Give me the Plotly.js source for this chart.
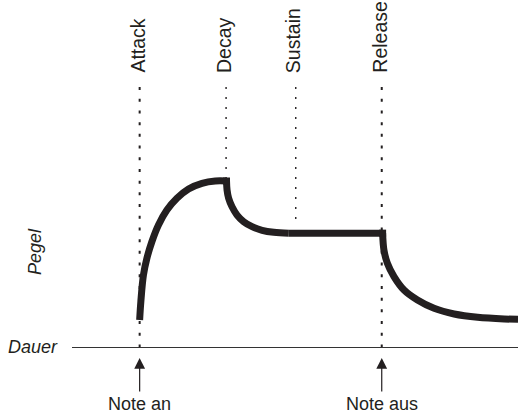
<!DOCTYPE html>
<html>
<head>
<meta charset="utf-8">
<script src="https://cdn.plot.ly/plotly-3.0.1.min.js"></script>
<style>html,body{margin:0;padding:0;background:#fff;}#chart{width:518px;height:414px;}</style>
</head>
<body>
<div id="chart"></div>
<script>
// Phase markers (time units along "Dauer")
const phaseNames = ['Attack', 'Decay', 'Sustain', 'Release'];
const phaseTimes = [0, 19.6, 35.4, 54.9];
const guideTop = 156.6;
const guideBottom = [0, 101, 73.5, 0];

// Note events
const noteLabels = ['Note an', 'Note aus'];
const noteTimes = [0, 54.9];

// Envelope curve segments (time, level "Pegel")
const attackTime  = [0, 0.27, 0.86, 1.64, 2.77, 4.27, 6.18, 8.45, 11.09, 14.14, 17.16, 19.7];
const attackLevel = [16.3, 27.3, 43.4, 53.4, 63.4, 73.5, 82.5, 89.6, 95.2, 98.6, 100, 100];
const decayTime   = [19.7, 19.82, 20.18, 20.95, 22.09, 23.59, 25.5, 27.77, 30.41, 33.82];
const decayLevel  = [100, 94.6, 89.6, 84.5, 79.5, 75.5, 72.5, 70.3, 69.1, 68.6];
const sustainTime  = [33.82, 55.1];
const sustainLevel = [68.6, 68.6];
const releaseTime  = [55.1, 55.4, 56.18, 57.68, 59.95, 63.0, 66.77, 71.32, 76.64, 82.68, 85.8];
const releaseLevel = [68.6, 58.4, 50.4, 42.4, 34.3, 28.3, 23.3, 19.9, 17.9, 16.9, 16.7];

const ink = '#231f20';
const font = {family: 'Liberation Sans, Arial, sans-serif', size: 18, color: ink};
const labelFont = Object.assign({}, font, {size: 19.5});

const traces = [];
phaseTimes.forEach(function (t, i) {
  const strong = (i === 0 || i === 3);
  traces.push({
    x: [t, t], y: [guideTop, guideBottom[i]], mode: 'lines', hoverinfo: 'skip',
    line: {color: ink, width: strong ? 2 : 1.4, dash: strong ? '3px,8.7px' : '2px,8px'}
  });
});
function seg(x, y, shape) {
  return {x: x, y: y, mode: 'lines', hoverinfo: 'skip',
          line: {color: ink, width: 7, shape: shape, smoothing: 1}};
}
traces.push(seg(attackTime, attackLevel, 'spline'));
traces.push(seg(decayTime, decayLevel, 'spline'));
traces.push(seg(sustainTime, sustainLevel, 'linear'));
traces.push(seg(releaseTime, releaseLevel, 'spline'));
// square corners where segments meet at sharp angles
traces.push({
  x: [attackTime[attackTime.length - 1], releaseTime[0]],
  y: [attackLevel[attackLevel.length - 1], releaseLevel[0]],
  mode: 'markers', hoverinfo: 'skip',
  marker: {symbol: 'square', size: 7, color: ink, line: {width: 0}}
});

const annotations = [];
phaseNames.forEach(function (n, i) {
  annotations.push({
    x: phaseTimes[i], y: 163.9, xref: 'x', yref: 'y', text: n, showarrow: false,
    textangle: -90, xanchor: 'center', yanchor: 'bottom', xshift: -2, yshift: 0, font: labelFont
  });
});
noteLabels.forEach(function (n, i) {
  annotations.push({
    x: noteTimes[i], y: -0.0317, xref: 'x', yref: 'paper', text: '', showarrow: true,
    ax: 0, ay: 35, arrowhead: 2, arrowsize: 1.8, arrowwidth: 1.2, arrowcolor: ink, standoff: 0
  });
  annotations.push({
    x: noteTimes[i], y: -0.164, xref: 'x', yref: 'paper', text: n, showarrow: false,
    xanchor: 'center', yanchor: 'middle', font: font
  });
});
annotations.push({
  x: -0.027, y: 0, xref: 'paper', yref: 'paper', text: 'Dauer', showarrow: false,
  xanchor: 'right', yanchor: 'middle', font: Object.assign({}, font, {style: 'italic'})
});
annotations.push({
  x: -0.083, y: 0.2767, xref: 'paper', yref: 'paper', text: 'Pegel', showarrow: false,
  textangle: -90, xanchor: 'center', yanchor: 'middle', font: Object.assign({}, font, {style: 'italic'})
});

const layout = {
  width: 518, height: 414,
  margin: {l: 72, r: 0, t: 0, b: 67, pad: 0},
  paper_bgcolor: '#fff', plot_bgcolor: '#fff',
  showlegend: false,
  xaxis: {range: [-15.34, 85.8], showline: true, linecolor: '#333', linewidth: 1.2,
          showgrid: false, zeroline: false, showticklabels: false, ticks: '', fixedrange: true},
  yaxis: {range: [0, 209.04], showline: false, showgrid: false, zeroline: false,
          showticklabels: false, ticks: '', fixedrange: true},
  annotations: annotations
};

Plotly.newPlot('chart', traces, layout, {displayModeBar: false, staticPlot: true});
</script>
</body>
</html>
